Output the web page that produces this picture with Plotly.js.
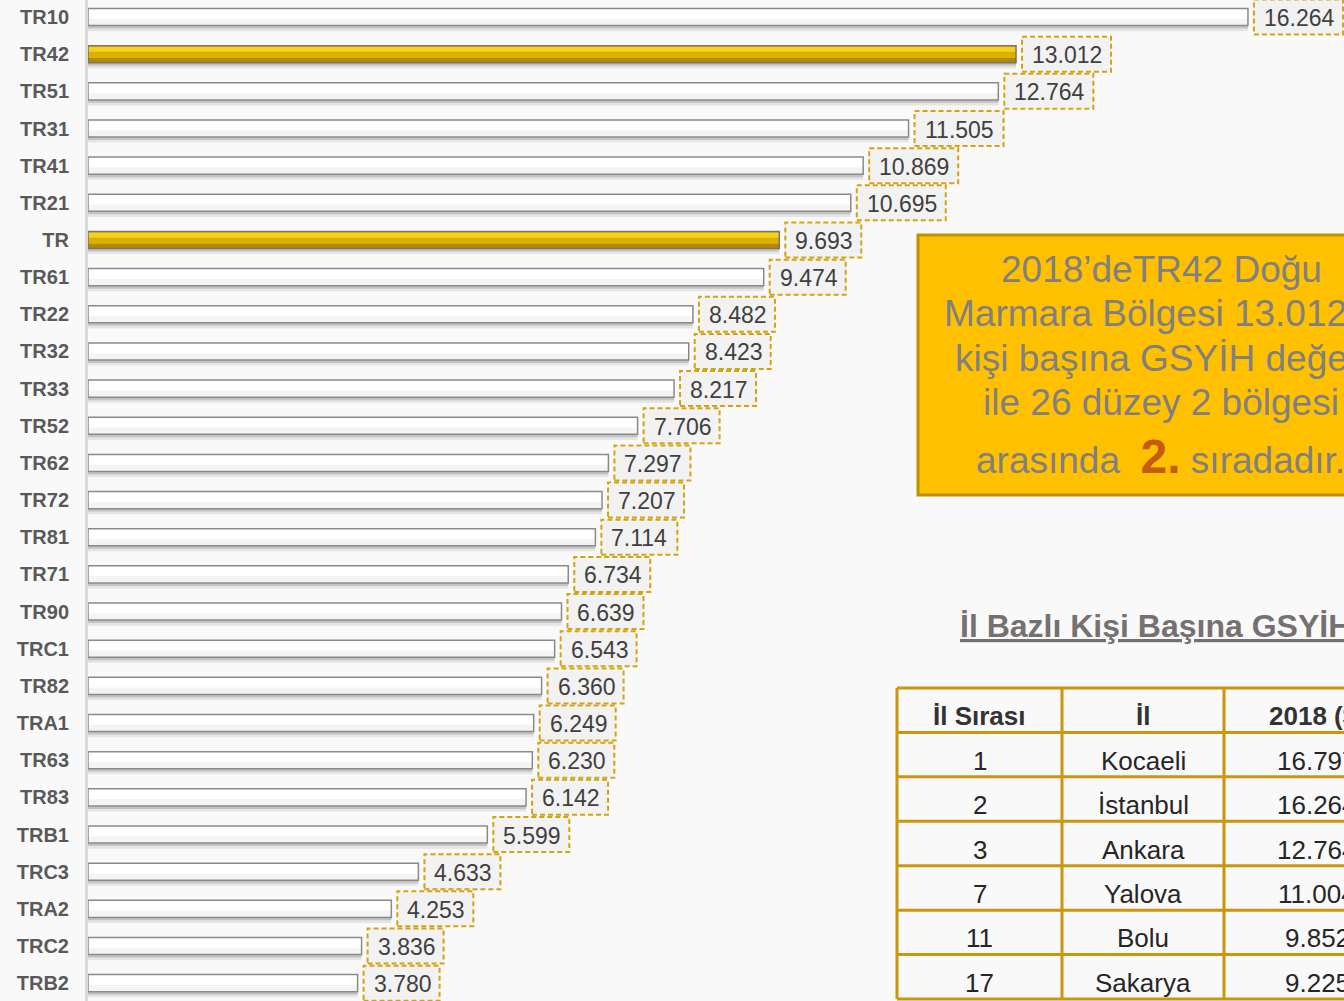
<!DOCTYPE html>
<html>
<head>
<meta charset="utf-8">
<script src="https://cdn.plot.ly/plotly-3.0.1.min.js"></script>
<style>
  html, body { margin: 0; padding: 0; background: #f9f9f9; overflow: hidden; width: 1344px; height: 1001px; }
  #chart { width: 1420px; height: 1001px; }
</style>
</head>
<body>
<div id="chart"></div>
<script>
// ---- data ----
const categories = ['TR10','TR42','TR51','TR31','TR41','TR21','TR','TR61','TR22','TR32','TR33','TR52','TR62','TR72','TR81','TR71','TR90','TRC1','TR82','TRA1','TR63','TR83','TRB1','TRC3','TRA2','TRC2','TRB2'];
const values = [16.264,13.012,12.764,11.505,10.869,10.695,9.693,9.474,8.482,8.423,8.217,7.706,7.297,7.207,7.114,6.734,6.639,6.543,6.360,6.249,6.230,6.142,5.599,4.633,4.253,3.836,3.780];
const highlighted = ['TR42','TR'];

const noteLines = ['2018’deTR42 Doğu', 'Marmara Bölgesi 13.012 $', 'kişi başına GSYİH değeri', 'ile 26 düzey 2 bölgesi'];
const noteLast = ['arasında', '2.', 'sıradadır.'];
const tableTitle = 'İl Bazlı Kişi Başına GSYİH';
const tableHeader = ['İl Sırası', 'İl', '2018 ($)'];
const tableRank = ['1','2','3','7','11','17'];
const tableProvince = ['Kocaeli','İstanbul','Ankara','Yalova','Bolu','Sakarya'];
const tableValue = ['16.797','16.264','12.764','11.004','9.852','9.225'];

// ---- geometry helpers ----
const W = 1420, H = 1001, ML = 88;
const PW = W - ML;
const xp = px => (px - ML) / PW;
const yp = py => 1 - py / H;
const FONT = 'Liberation Sans, Arial, sans-serif';

const idx = categories.map((c, i) => i);
const isHi = c => highlighted.indexOf(c) >= 0;
const whiteVals = values.map((v, i) => isHi(categories[i]) ? null : v);
const goldVals = values.map((v, i) => isHi(categories[i]) ? v : null);

const BW = 0.46;
function barTrace(x, color, offset, width, line) {
  return {
    type: 'bar', orientation: 'h', x: x, y: idx,
    width: width, offset: offset,
    marker: { color: color, line: line || { width: 0 } },
    hoverinfo: 'skip', showlegend: false
  };
}

const traces = [
  barTrace(values, 'rgba(0,0,0,0.08)', -BW/2 + 0.15, BW),
  barTrace(values, 'rgba(0,0,0,0.14)', -BW/2 + 0.08, BW),
  barTrace(whiteVals, '#ffffff', -BW/2, BW),
  barTrace(whiteVals, 'rgba(0,0,0,0.045)', -BW/2 + BW*0.6, BW*0.4),
  barTrace(goldVals, '#b38a00', -BW/2, BW),
  barTrace(goldVals, '#dcb000', -BW/2, BW*0.72),
  barTrace(goldVals, '#f5d21e', -BW/2 + 0.03, BW*0.3),
  barTrace(whiteVals, 'rgba(0,0,0,0)', -BW/2, BW, { color: '#8a8a8a', width: 1.5 }),
  barTrace(goldVals, 'rgba(0,0,0,0)', -BW/2, BW, { color: '#7d7462', width: 1.5 })
];

const shapes = [];
const annotations = [];

// value label boxes + texts
values.forEach((v, i) => {
  const txt = v.toFixed(3);
  const w = 13 * txt.length + 11;
  shapes.push({
    type: 'rect', xref: 'x', yref: 'y', xsizemode: 'pixel', ysizemode: 'pixel',
    xanchor: v, yanchor: i, x0: 6, x1: 6 + w, y0: -17.5, y1: 17.5,
    fillcolor: '#f2f2f2', line: { color: '#d3a313', width: 2, dash: '5px,3px' }, layer: 'above'
  });
  annotations.push({
    xref: 'x', yref: 'y', x: v, y: i, text: txt, showarrow: false,
    xanchor: 'left', yanchor: 'middle', xshift: 14, yshift: -1,
    font: { family: FONT, size: 23, color: '#404040' }
  });
});

// orange note box
shapes.push({
  type: 'rect', xref: 'paper', yref: 'paper', x0: xp(918), x1: xp(1415), y0: yp(495), y1: yp(235),
  fillcolor: '#ffc000', line: { color: '#bf9000', width: 3 }, layer: 'above'
});
const noteY = [269, 313.5, 358, 402.5];
noteLines.forEach((t, k) => {
  annotations.push({
    xref: 'paper', yref: 'paper', x: xp(1161), y: yp(noteY[k]), text: t, showarrow: false,
    xanchor: 'center', yanchor: 'middle', font: { family: FONT, size: 37, color: '#808080' }
  });
});
annotations.push({
  xref: 'paper', yref: 'paper', x: xp(1160), y: yp(456), showarrow: false,
  text: noteLast[0] + '  <span style="font-size:48px;font-weight:bold;fill:#c55a11">' + noteLast[1] + '</span> ' + noteLast[2],
  xanchor: 'center', yanchor: 'middle', font: { family: FONT, size: 37, color: '#808080' }
});

// table title
annotations.push({
  xref: 'paper', yref: 'paper', x: xp(958), y: yp(626), text: '<u>' + tableTitle + '</u>', showarrow: false,
  xanchor: 'left', yanchor: 'middle', font: { family: FONT, size: 32, color: '#757171', weight: 'bold' }
});

// table grid
const colEdges = [897, 1062, 1224, 1410];
const rowTop = 688, rowH = 44.43;
const nRows = tableRank.length + 1;
for (let r = 0; r <= nRows; r++) {
  const y = rowTop + r * rowH;
  shapes.push({ type: 'line', xref: 'paper', yref: 'paper', x0: xp(colEdges[0]), x1: xp(colEdges[3]), y0: yp(y), y1: yp(y),
    line: { color: '#c9960c', width: 3 }, layer: 'above' });
}
colEdges.forEach(cx => {
  shapes.push({ type: 'line', xref: 'paper', yref: 'paper', x0: xp(cx), x1: xp(cx), y0: yp(rowTop), y1: yp(rowTop + nRows * rowH),
    line: { color: '#c9960c', width: 3 }, layer: 'above' });
});
const colCenters = [0, 1, 2].map(c => (colEdges[c] + colEdges[c + 1]) / 2);
tableHeader.forEach((t, c) => {
  annotations.push({ xref: 'paper', yref: 'paper', x: xp(colCenters[c]), y: yp(rowTop + rowH / 2 + 6), text: t, showarrow: false,
    xanchor: 'center', yanchor: 'middle', font: { family: FONT, size: 26, color: '#333333', weight: 'bold' } });
});
const tableCols = [tableRank, tableProvince, tableValue];
tableRank.forEach((_, r) => {
  tableCols.forEach((col, c) => {
    annotations.push({ xref: 'paper', yref: 'paper', x: xp(colCenters[c]), y: yp(rowTop + (r + 1.5) * rowH + 6), text: col[r], showarrow: false,
      xanchor: 'center', yanchor: 'middle', font: { family: FONT, size: 26, color: '#262626' } });
  });
});

const layout = {
  width: W, height: H,
  margin: { l: ML, r: 0, t: 0, b: 0, pad: 0 },
  paper_bgcolor: '#f9f9f9', plot_bgcolor: '#f9f9f9',
  barmode: 'overlay', showlegend: false,
  xaxis: { range: [0, PW / 71.32], visible: false, fixedrange: true },
  yaxis: {
    range: [26.48, -0.458], tickmode: 'array', tickvals: idx, ticktext: categories,
    tickfont: { family: FONT, size: 20, color: '#595959', weight: 'bold' },
    showline: true, linecolor: '#dadada', linewidth: 3, showgrid: false, zeroline: false,
    ticks: '', ticklabelstandoff: 12, fixedrange: true
  },
  shapes: shapes,
  annotations: annotations
};

Plotly.newPlot('chart', traces, layout, { staticPlot: true, displayModeBar: false });
</script>
</body>
</html>
